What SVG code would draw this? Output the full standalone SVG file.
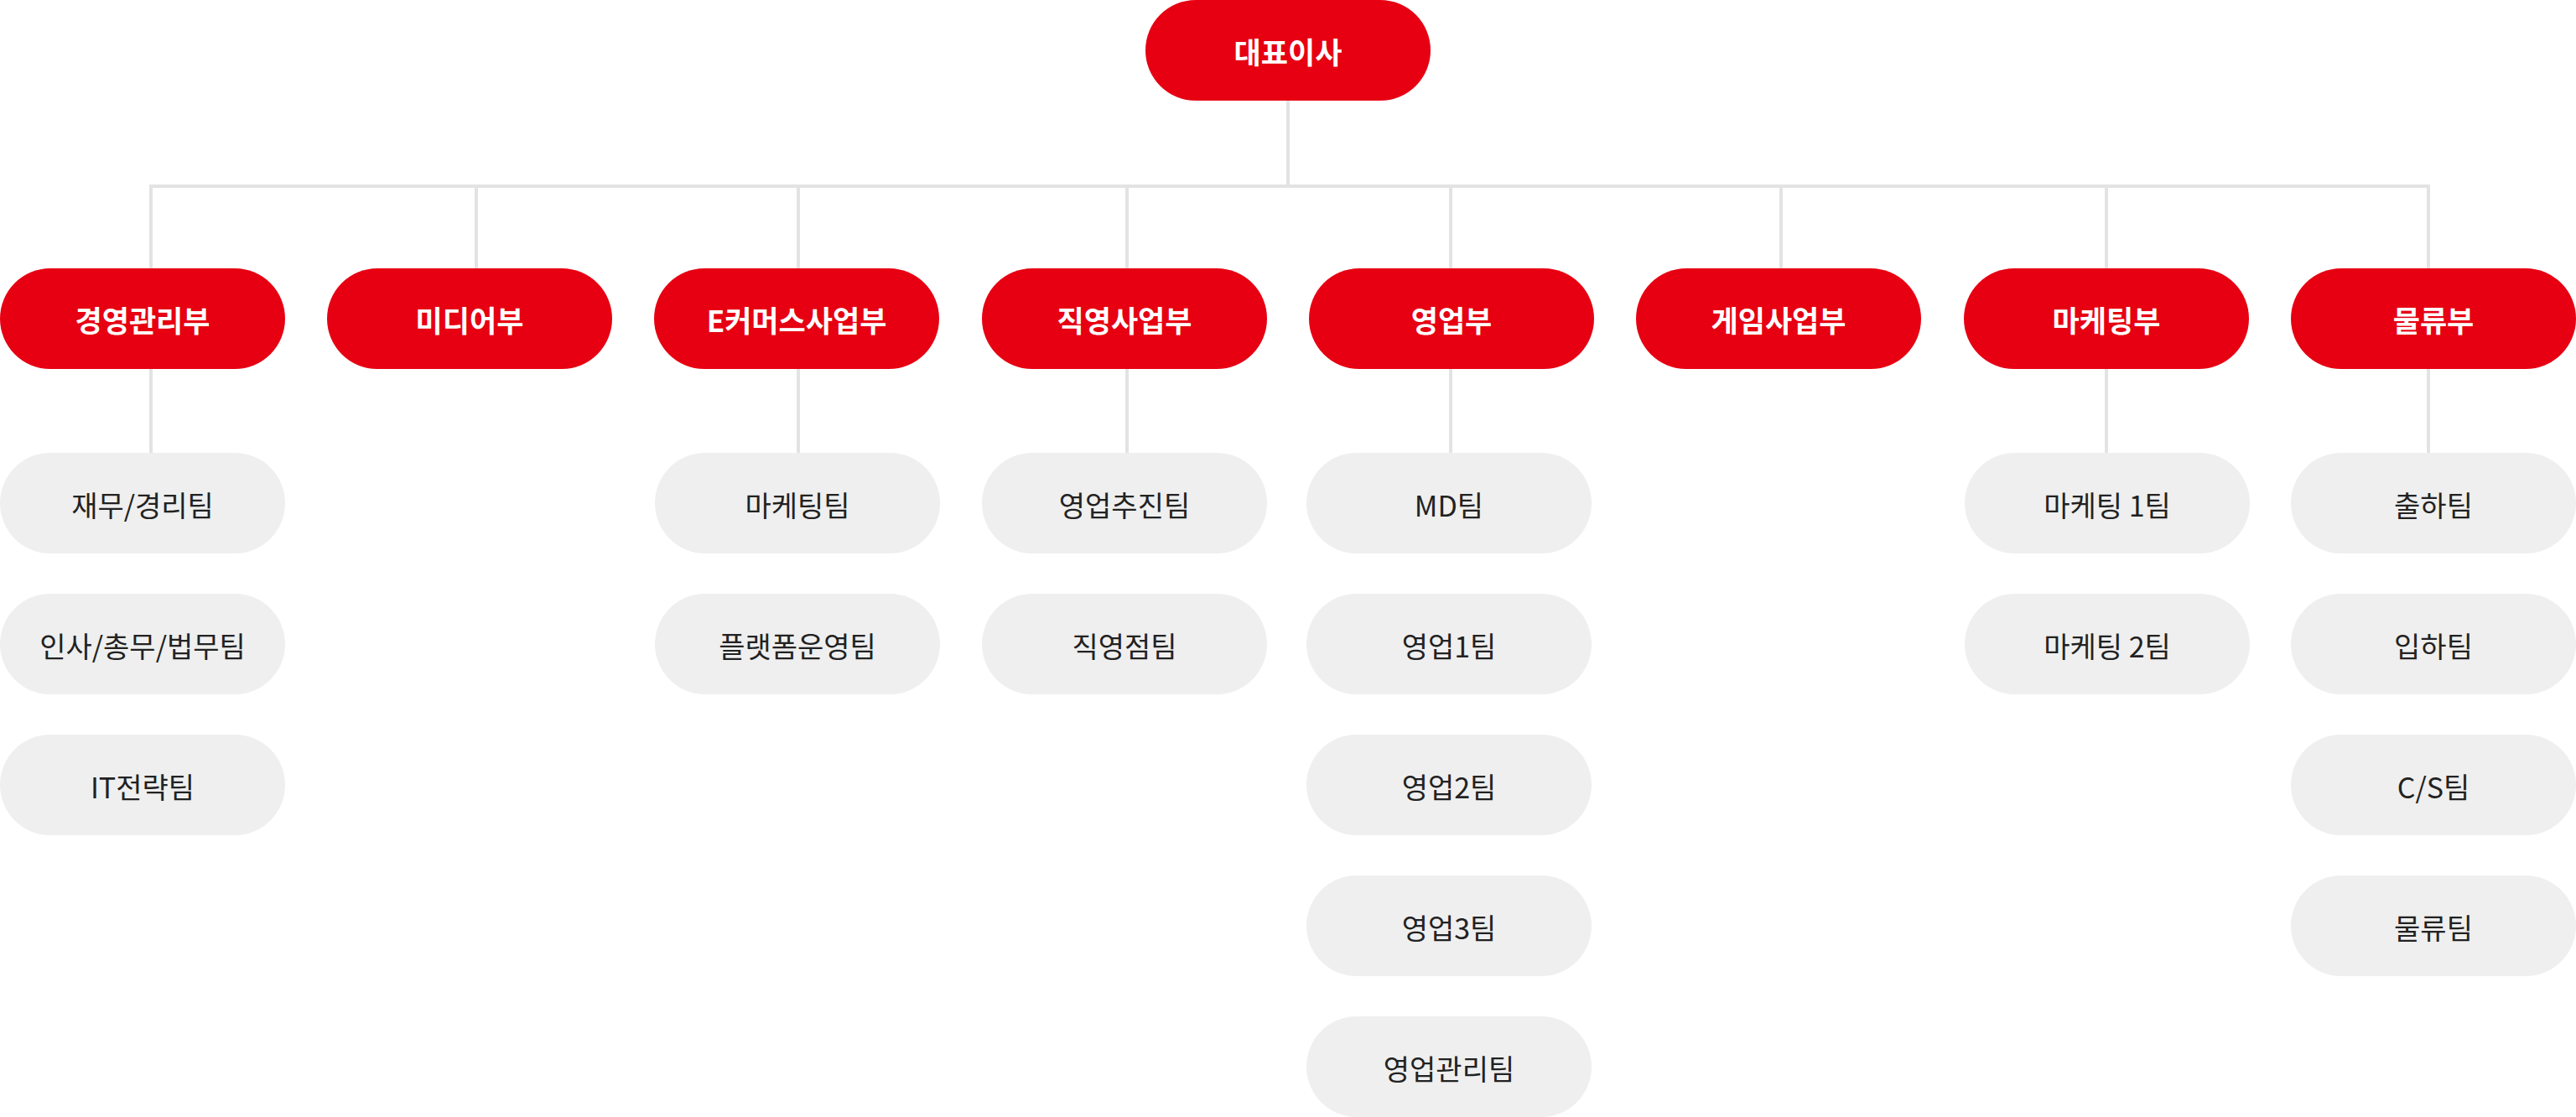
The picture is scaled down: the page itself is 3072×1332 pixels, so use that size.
<svg xmlns="http://www.w3.org/2000/svg" width="3072" height="1332" viewBox="0 0 3072 1332">
<style>
.bg{fill:#ffffff}
.red rect{fill:#e60012}
.red text{fill:#ffffff;font-weight:700;font-size:35px}
.gray rect{fill:#efefef}
.gray text{fill:#222222;font-weight:400;font-size:34px}
text{font-family:"Noto Sans CJK KR","Noto Sans",sans-serif;text-anchor:middle}
.conn line{stroke:#e3e3e3;stroke-width:4;fill:none}
</style>
<rect class="bg" x="0" y="0" width="3072" height="1332"/>
<g id="connectors" class="conn">
<line x1="1536" y1="120" x2="1536" y2="222"/>
<line x1="178" y1="222" x2="2898" y2="222"/>
<line x1="180" y1="222" x2="180" y2="540"/>
<line x1="568" y1="222" x2="568" y2="320"/>
<line x1="952" y1="222" x2="952" y2="540"/>
<line x1="1344" y1="222" x2="1344" y2="540"/>
<line x1="1730" y1="222" x2="1730" y2="540"/>
<line x1="2124" y1="222" x2="2124" y2="320"/>
<line x1="2512" y1="222" x2="2512" y2="540"/>
<line x1="2896" y1="222" x2="2896" y2="540"/>
</g>
<g id="ceo" class="red"><rect x="1366" y="0" width="340" height="120" rx="60"/><text x="1536" y="76">대표이사</text></g>
<g id="dept-1" class="red"><rect x="0" y="320" width="340" height="120" rx="60"/><text x="170" y="396">경영관리부</text></g>
<g id="dept-2" class="red"><rect x="390" y="320" width="340" height="120" rx="60"/><text x="560" y="396">미디어부</text></g>
<g id="dept-3" class="red"><rect x="780" y="320" width="340" height="120" rx="60"/><text x="950" y="396">E커머스사업부</text></g>
<g id="dept-4" class="red"><rect x="1171" y="320" width="340" height="120" rx="60"/><text x="1341" y="396">직영사업부</text></g>
<g id="dept-5" class="red"><rect x="1561" y="320" width="340" height="120" rx="60"/><text x="1731" y="396">영업부</text></g>
<g id="dept-6" class="red"><rect x="1951" y="320" width="340" height="120" rx="60"/><text x="2121" y="396">게임사업부</text></g>
<g id="dept-7" class="red"><rect x="2342" y="320" width="340" height="120" rx="60"/><text x="2512" y="396">마케팅부</text></g>
<g id="dept-8" class="red"><rect x="2732" y="320" width="340" height="120" rx="60"/><text x="2902" y="396">물류부</text></g>
<g id="team-1-1" class="gray"><rect x="0" y="540" width="340" height="120" rx="60"/><text x="170" y="616">재무/경리팀</text></g>
<g id="team-1-2" class="gray"><rect x="0" y="708" width="340" height="120" rx="60"/><text x="170" y="784">인사/총무/법무팀</text></g>
<g id="team-1-3" class="gray"><rect x="0" y="876" width="340" height="120" rx="60"/><text x="170" y="952">IT전략팀</text></g>
<g id="team-3-1" class="gray"><rect x="781" y="540" width="340" height="120" rx="60"/><text x="951" y="616">마케팅팀</text></g>
<g id="team-3-2" class="gray"><rect x="781" y="708" width="340" height="120" rx="60"/><text x="951" y="784">플랫폼운영팀</text></g>
<g id="team-4-1" class="gray"><rect x="1171" y="540" width="340" height="120" rx="60"/><text x="1341" y="616">영업추진팀</text></g>
<g id="team-4-2" class="gray"><rect x="1171" y="708" width="340" height="120" rx="60"/><text x="1341" y="784">직영점팀</text></g>
<g id="team-5-1" class="gray"><rect x="1558" y="540" width="340" height="120" rx="60"/><text x="1728" y="616">MD팀</text></g>
<g id="team-5-2" class="gray"><rect x="1558" y="708" width="340" height="120" rx="60"/><text x="1728" y="784">영업1팀</text></g>
<g id="team-5-3" class="gray"><rect x="1558" y="876" width="340" height="120" rx="60"/><text x="1728" y="952">영업2팀</text></g>
<g id="team-5-4" class="gray"><rect x="1558" y="1044" width="340" height="120" rx="60"/><text x="1728" y="1120">영업3팀</text></g>
<g id="team-5-5" class="gray"><rect x="1558" y="1212" width="340" height="120" rx="60"/><text x="1728" y="1288">영업관리팀</text></g>
<g id="team-7-1" class="gray"><rect x="2343" y="540" width="340" height="120" rx="60"/><text x="2513" y="616">마케팅 1팀</text></g>
<g id="team-7-2" class="gray"><rect x="2343" y="708" width="340" height="120" rx="60"/><text x="2513" y="784">마케팅 2팀</text></g>
<g id="team-8-1" class="gray"><rect x="2732" y="540" width="340" height="120" rx="60"/><text x="2902" y="616">출하팀</text></g>
<g id="team-8-2" class="gray"><rect x="2732" y="708" width="340" height="120" rx="60"/><text x="2902" y="784">입하팀</text></g>
<g id="team-8-3" class="gray"><rect x="2732" y="876" width="340" height="120" rx="60"/><text x="2902" y="952">C/S팀</text></g>
<g id="team-8-4" class="gray"><rect x="2732" y="1044" width="340" height="120" rx="60"/><text x="2902" y="1120">물류팀</text></g>
</svg>
